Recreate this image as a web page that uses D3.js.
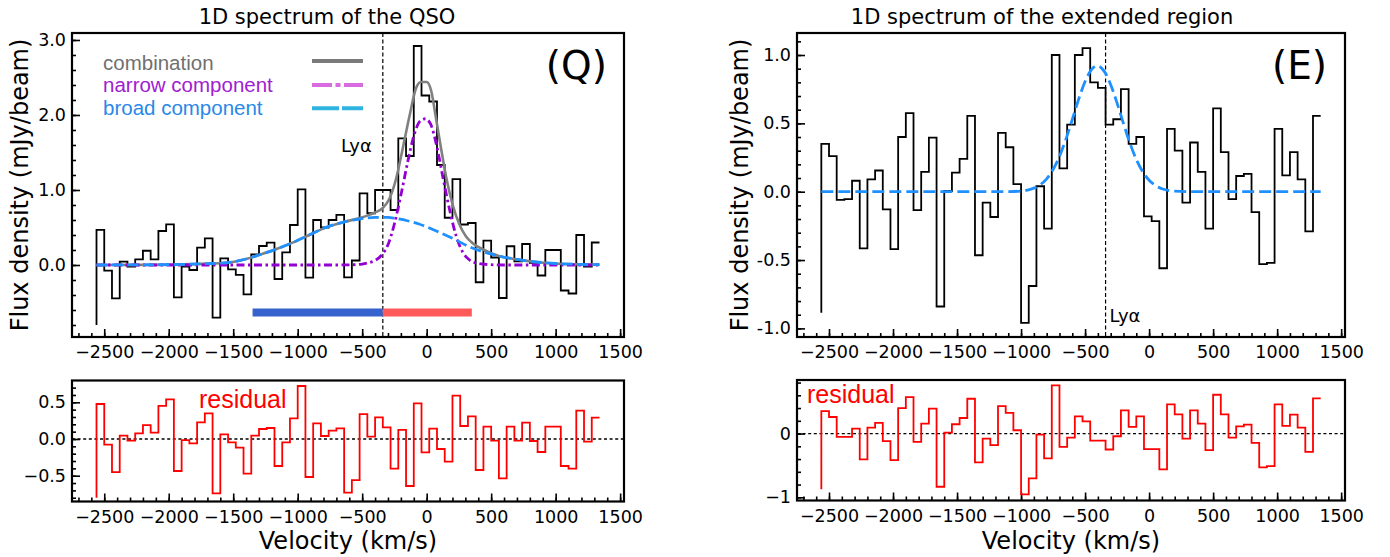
<!DOCTYPE html>
<html><head><meta charset="utf-8">
<script src="https://cdn.jsdelivr.net/npm/d3@7"></script>
<style>
body{margin:0;background:#fff;}
svg{display:block;}
</style></head><body>
<svg id="chart" width="1390" height="557"></svg>
<script>
// ---------- DATA ----------
const velocity = [-2560,-2500,-2440,-2380,-2320,-2260,-2200,-2140,-2080,-2020,-1960,-1900,-1840,-1780,-1720,-1660,-1600,-1540,-1480,-1420,-1360,-1300,-1240,-1180,-1120,-1060,-1000,-940,-880,-820,-760,-700,-640,-580,-520,-460,-400,-340,-280,-220,-160,-100,-40,20,80,140,200,260,320,380,440,500,560,620,680,740,800,860,920,980,1040,1100,1160,1220,1280,1340];

const qsoFlux = [-0.80,0.467,-0.076,-0.444,0.044,-0.022,0.076,0.19,0.076,0.453,0.542,-0.431,-0.022,-0.067,0.231,0.356,-0.702,0.089,-0.058,-0.133,-0.391,0.142,0.253,0.298,-0.187,0.169,0.533,1.009,-0.169,0.60,0.50,0.60,0.667,-0.164,0.06,0.956,0.69,1.0,1.0,0.733,1.689,1.453,2.92,2.26,2.18,1.333,0.63,1.145,0.54,0.56,-0.23,0.324,0.10,-0.44,0.25,0.05,0.28,0.03,-0.14,0.20,0.20,-0.34,-0.38,0.40,-0.02,0.30];
const qsoResidual = [-0.80,0.477,-0.077,-0.45,0.045,-0.023,0.077,0.19,0.086,0.45,0.54,-0.436,-0.014,-0.059,0.227,0.35,-0.74,0.064,-0.045,-0.118,-0.472,0.045,0.136,0.15,-0.368,-0.045,0.282,0.722,-0.518,0.214,0.041,0.114,0.145,-0.73,-0.559,0.34,0.032,0.295,0.159,-0.404,0.123,-0.64,0.486,-0.181,0.141,-0.136,-0.309,0.59,0.177,0.309,-0.422,0.168,-0.023,-0.536,0.168,-0.023,0.222,-0.027,-0.177,0.168,0.168,-0.368,-0.404,0.386,-0.036,0.29];

const extFlux = [-0.885,0.35,0.26,-0.06,-0.055,0.08,-0.415,0.09,0.155,-0.13,-0.42,0.40,0.575,-0.135,0.145,0.395,-0.84,0.005,0.14,0.24,0.555,-0.465,-0.08,-0.185,0.43,0.325,0.055,-0.96,-0.69,0.04,-0.27,1.0,0.17,0.49,1.0,1.05,0.80,0.76,0.49,0.53,0.75,0.35,0.40,-0.18,-0.215,-0.56,0.46,0.30,-0.08,0.36,0.145,-0.27,0.61,0.29,-0.055,0.115,0.13,-0.15,-0.53,-0.52,0.46,0.12,0.29,0.09,-0.29,0.555];
const extResidual = [-0.875,0.353,0.26,-0.052,-0.052,0.078,-0.406,0.094,0.166,-0.12,-0.417,0.40,0.572,-0.13,0.156,0.39,-0.834,0.016,0.146,0.244,0.546,-0.453,-0.078,-0.183,0.431,0.323,0.052,-0.953,-0.703,-0.016,-0.39,0.755,-0.208,-0.063,0.27,0.19,-0.11,-0.11,-0.25,-0.042,0.364,0.104,0.27,-0.245,-0.245,-0.5625,0.458,0.30,-0.078,0.364,0.156,-0.26,0.609,0.30,-0.063,0.114,0.14,-0.146,-0.531,-0.51,0.458,0.12,0.296,0.094,-0.286,0.552];

// model curves
const combVel  = [-2560,-2200,-1900,-1700,-1550,-1400,-1300,-1170,-1040,-910,-780,-650,-520,-450,-400,-340,-290,-237,-186,-134,-82,-45,0,34,73,112,150,202,254,305,357,434,560,700,850,1000,1150,1340];
const combFlux = [0,0.002,0.008,0.018,0.03,0.08,0.133,0.209,0.298,0.40,0.502,0.571,0.625,0.665,0.70,0.76,0.88,1.15,1.55,1.98,2.36,2.44,2.44,2.33,1.95,1.55,1.18,0.80,0.54,0.38,0.29,0.21,0.12,0.075,0.04,0.02,0.01,0.005];
const narrowVel  = [-2560,-700,-600,-500,-450,-400,-350,-300,-250,-200,-150,-100,-50,-10,30,80,130,180,230,280,330,400,500,600,1340];
const narrowFlux = [0,0,0.002,0.012,0.03,0.06,0.13,0.27,0.55,0.93,1.35,1.72,1.92,1.95,1.88,1.57,1.13,0.72,0.38,0.17,0.07,0.02,0.004,0,0];
const broadVel  = [-2560,-2200,-1900,-1700,-1550,-1400,-1300,-1170,-1040,-910,-780,-650,-520,-400,-300,-240,-150,-60,70,200,330,460,560,700,850,1000,1150,1340];
const broadFlux = [0,0.002,0.008,0.018,0.03,0.08,0.133,0.209,0.298,0.40,0.502,0.569,0.613,0.636,0.635,0.62,0.59,0.547,0.457,0.356,0.244,0.164,0.12,0.075,0.04,0.02,0.01,0.005];
const extModelVel  = [-2560,-1200,-1100,-1000,-950,-900,-850,-800,-750,-700,-650,-600,-550,-500,-450,-405,-350,-300,-250,-200,-150,-100,-50,0,50,100,150,200,300,1340];
const extModelFlux = [0,0,0.001,0.005,0.012,0.026,0.051,0.094,0.162,0.258,0.383,0.528,0.677,0.806,0.893,0.92,0.88,0.783,0.648,0.498,0.356,0.236,0.146,0.084,0.045,0.022,0.010,0.004,0.001,0];

const lyaVelocity = -340;
const blueBar = [-1350, -340];
const redBar  = [-340, 350];
const barLevel = -0.633;

const xTicks = [-2500,-2000,-1500,-1000,-500,0,500,1000,1500];
const xTickLabels = ["\u22122500","\u22122000","\u22121500","\u22121000","\u2212500","0","500","1000","1500"];
const qsoYTicks = [0,1,2,3];
const qsoYLabels = ["0.0","1.0","2.0","3.0"];
const extYTicks = [-1,-0.5,0,0.5,1];
const extYLabels = ["-1.0","-0.5","0.0","0.5","1.0"];
const qsoResYTicks = [-0.5,0,0.5];
const qsoResYLabels = ["\u22120.5","0.0","0.5"];
const extResYTicks = [-1,0];
const extResYLabels = ["\u22121","0"];

const legendLabels = ["combination","narrow component","broad component"];

// ---------- DRAW ----------
const svg = d3.select("#chart");
const FONT = "DejaVu Sans, sans-serif";
const xDomain = [-2750, 1530];

function mkPanel(box, yDomain, yTicks, yLabels, yMinor) {
  const x = d3.scaleLinear().domain(xDomain).range([box.L, box.R]);
  const y = d3.scaleLinear().domain(yDomain).range([box.B, box.T]);
  const g = svg.append("g");
  const xMinor = d3.range(-27, 16).map(d => d * 100);
  const strip = s => { s.select(".domain").remove(); s.selectAll("line").attr("stroke","#000").attr("stroke-width",1.6); };
  g.append("g").attr("transform",`translate(0,${box.B})`)
    .call(d3.axisBottom(x).tickValues(xMinor).tickSize(-4).tickFormat("")).call(strip);
  g.append("g").attr("transform",`translate(0,${box.B})`)
    .call(d3.axisBottom(x).tickValues(xTicks).tickSize(-8).tickPadding(9).tickFormat((d,i)=>xTickLabels[i]))
    .call(strip)
    .call(s => s.selectAll("text").attr("font-family",FONT).attr("font-size","17.5px").attr("fill","#000"));
  g.append("g").attr("transform",`translate(${box.L},0)`)
    .call(d3.axisLeft(y).tickValues(yMinor).tickSize(-4).tickFormat("")).call(strip);
  g.append("g").attr("transform",`translate(${box.L},0)`)
    .call(d3.axisLeft(y).tickValues(yTicks).tickSize(-8).tickPadding(6).tickFormat((d,i)=>yLabels[i]))
    .call(strip)
    .call(s => s.selectAll("text").attr("font-family",FONT).attr("font-size","17.5px").attr("fill","#000"));
  return {x, y, g, box};
}
function frame(p) {
  svg.append("rect").attr("x",p.box.L).attr("y",p.box.T)
    .attr("width",p.box.R-p.box.L).attr("height",p.box.B-p.box.T)
    .attr("fill","none").attr("stroke","#000").attr("stroke-width",2.2);
}
function stepLine(p, ys, color) {
  const line = d3.line().x((d,i)=>p.x(velocity[i])).y(d=>p.y(d)).curve(d3.curveStepBefore);
  p.g.append("path").attr("d", line(ys)).attr("fill","none").attr("stroke",color).attr("stroke-width",1.8);
}
function curve(p, xs, ys, color, width, dash) {
  const line = d3.line().x((d,i)=>p.x(xs[i])).y(d=>p.y(d)).curve(d3.curveMonotoneX);
  const path = p.g.append("path").attr("d", line(ys)).attr("fill","none")
    .attr("stroke",color).attr("stroke-width",width).attr("stroke-linecap","butt");
  if (dash) path.attr("stroke-dasharray", dash);
}
function zeroLine(p) {
  p.g.append("line").attr("x1",p.box.L).attr("x2",p.box.R).attr("y1",p.y(0)).attr("y2",p.y(0))
    .attr("stroke","#000").attr("stroke-width",1.3).attr("stroke-dasharray","3,2.6");
}
function lyaLine(p) {
  p.g.append("line").attr("x1",p.x(lyaVelocity)).attr("x2",p.x(lyaVelocity)).attr("y1",p.box.T).attr("y2",p.box.B)
    .attr("stroke","#000").attr("stroke-width",1.2).attr("stroke-dasharray","4,2.5");
}
function text(x, y, s, o) {
  const t = svg.append("text").attr("x",x).attr("y",y).text(s)
    .attr("font-family", o.family || FONT).attr("font-size", o.size).attr("fill", o.fill || "#000")
    .attr("text-anchor", o.anchor || "start");
  if (o.rotate) t.attr("transform",`rotate(-90,${x},${y})`);
  return t;
}

// Left top (QSO)
const pQ = mkPanel({L:72,R:624,T:33,B:337}, [-0.96,3.093], qsoYTicks, qsoYLabels, d3.range(-4,16).map(d=>d*0.2));
stepLine(pQ, qsoFlux, "#000");
lyaLine(pQ);
curve(pQ, combVel, combFlux, "#808080", 2.6, null);
curve(pQ, narrowVel, narrowFlux, "#9400D3", 2.8, "8,3.5,2.5,3.5");
curve(pQ, broadVel, broadFlux, "#1E90FF", 2.8, "11,4.5");
pQ.g.append("line").attr("x1",pQ.x(blueBar[0])).attr("x2",pQ.x(blueBar[1])).attr("y1",pQ.y(barLevel)).attr("y2",pQ.y(barLevel))
  .attr("stroke","#3562CC").attr("stroke-width",8);
pQ.g.append("line").attr("x1",pQ.x(redBar[0])).attr("x2",pQ.x(redBar[1])).attr("y1",pQ.y(barLevel)).attr("y2",pQ.y(barLevel))
  .attr("stroke","#FF5A5A").attr("stroke-width",8);
frame(pQ);

// Left residual
const pQr = mkPanel({L:72,R:624,T:380.5,B:501.5}, [-0.8515,0.797], qsoResYTicks, qsoResYLabels, d3.range(-8,8).map(d=>d*0.1));
zeroLine(pQr);
stepLine(pQr, qsoResidual, "#FF0000");
frame(pQr);

// Right top (extended)
const pE = mkPanel({L:797,R:1345,T:33,B:337}, [-1.063,1.161], extYTicks, extYLabels, d3.range(-10,12).map(d=>d*0.1));
stepLine(pE, extFlux, "#000");
lyaLine(pE);
curve(pE, extModelVel, extModelFlux, "#1E90FF", 2.8, "12,5");
frame(pE);

// Right residual
const pEr = mkPanel({L:797,R:1345,T:380,B:500.5}, [-1.05,0.84], extResYTicks, extResYLabels, d3.range(-5,5).map(d=>d*0.2));
zeroLine(pEr);
stepLine(pEr, extResidual, "#FF0000");
frame(pEr);

// Titles & labels
text(327, 24, "1D spectrum of the QSO", {size:"21px", anchor:"middle"});
text(1042, 24, "1D spectrum of the extended region", {size:"21px", anchor:"middle"});
text(348, 549, "Velocity (km/s)", {size:"24px", anchor:"middle"});
text(1071, 549, "Velocity (km/s)", {size:"24px", anchor:"middle"});
text(28, 185, "Flux density (mJy/beam)", {size:"24px", anchor:"middle", rotate:true});
text(748, 185, "Flux density (mJy/beam)", {size:"24px", anchor:"middle", rotate:true});
text(607, 79, "(Q)", {size:"39px", anchor:"end"});
text(1327, 79, "(E)", {size:"39px", anchor:"end"});
text(pQ.x(lyaVelocity)-11, 152, "Ly\u03b1", {size:"18px", anchor:"end"});
text(pE.x(lyaVelocity)+4, 322, "Ly\u03b1", {size:"18px"});
text(199, 407.5, "residual", {size:"25px", family:"Liberation Sans, Arial, sans-serif", fill:"#FF0000"});
text(807, 402.5, "residual", {size:"25px", family:"Liberation Sans, Arial, sans-serif", fill:"#FF0000"});

// Legend
const LF = "Liberation Sans, Arial, sans-serif";
text(103, 69.5, legendLabels[0], {size:"20.5px", family:LF, fill:"#707070"});
text(103, 92, legendLabels[1], {size:"20.5px", family:LF, fill:"#A020D0"});
text(103, 114.5, legendLabels[2], {size:"20.5px", family:LF, fill:"#2A88E8"});
svg.append("line").attr("x1",312).attr("x2",363).attr("y1",61).attr("y2",61).attr("stroke","#7a7a7a").attr("stroke-width",4);
svg.append("line").attr("x1",312).attr("x2",363).attr("y1",85).attr("y2",85).attr("stroke","#D86BE0").attr("stroke-width",4).attr("stroke-dasharray","20,3.5,5,3.5,20");
svg.append("line").attr("x1",312).attr("x2",363).attr("y1",108.3).attr("y2",108.3).attr("stroke","#2FB4E0").attr("stroke-width",4).attr("stroke-dasharray","27,3,22");
</script>
</body></html>
